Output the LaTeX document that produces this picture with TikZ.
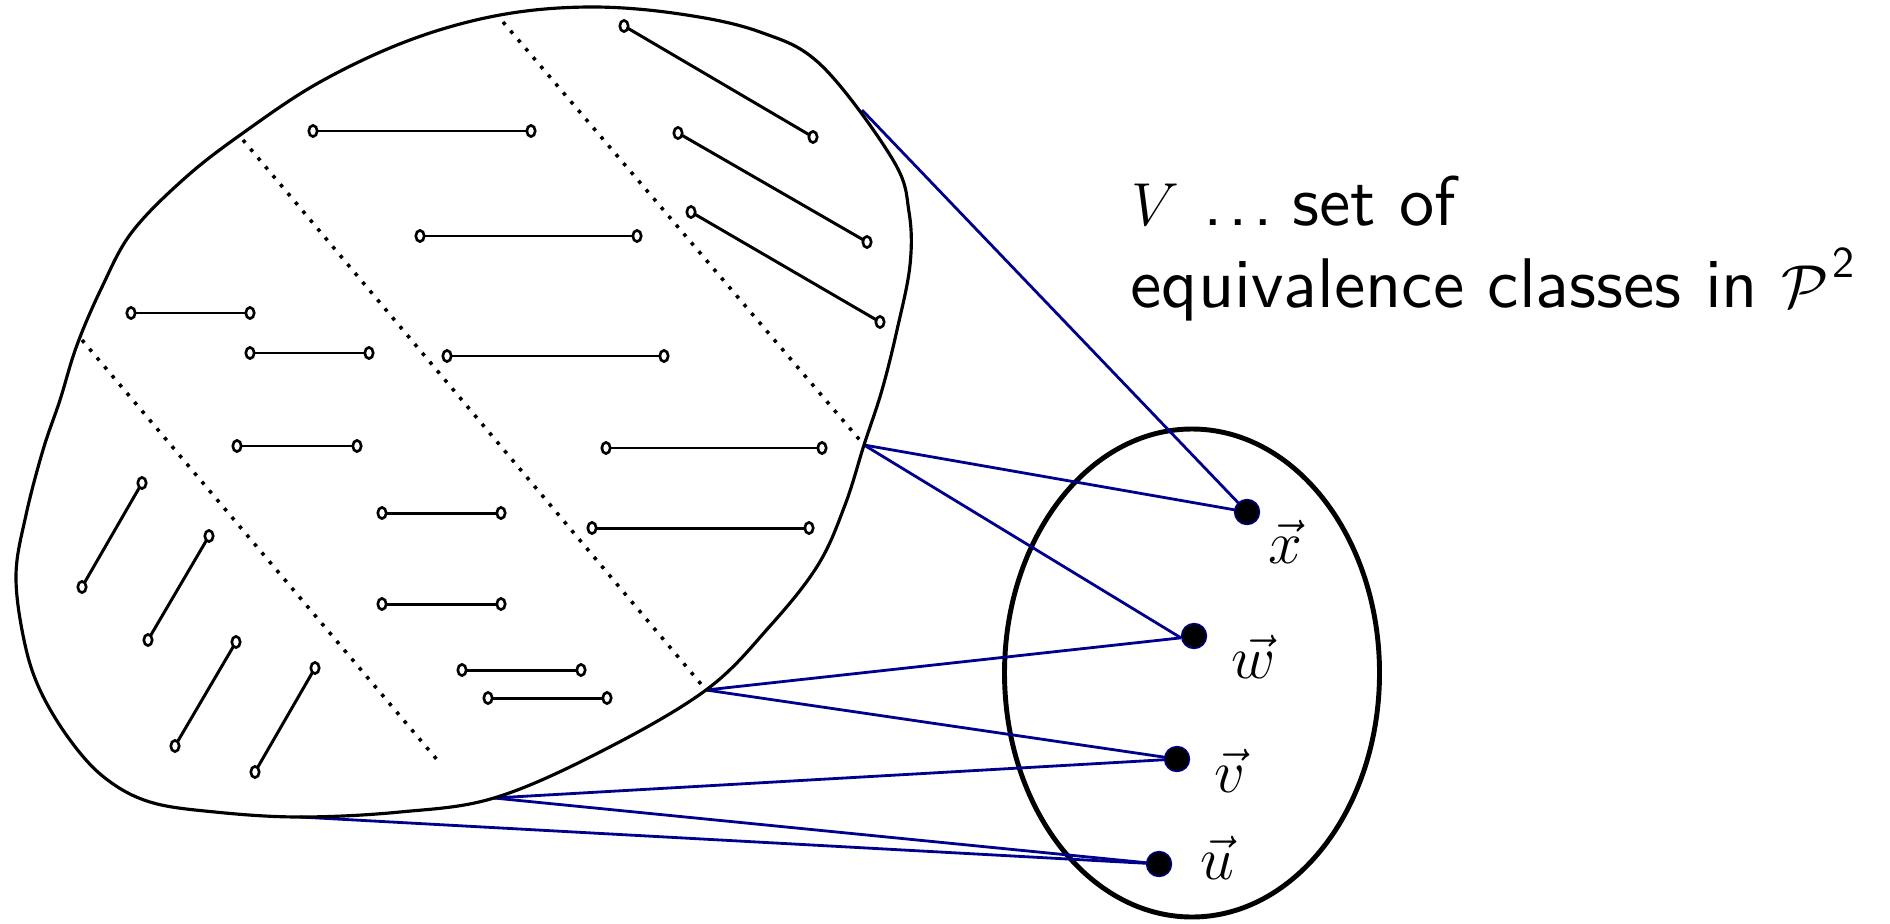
\documentclass[tikz,border=0pt]{standalone}
\usepackage{amsmath}
\usepackage{fontspec}
\newfontfamily\capsans{lmsans10-regular.otf}
\usetikzlibrary{backgrounds,shapes.geometric}

\definecolor{linkblue}{RGB}{0,0,140}

\tikzset{
  outline/.style={line width=0.9pt, line join=round},
  sepline/.style={line width=1pt, dash pattern=on 1pt off 2.3pt},
  pairline/.style={line width=0.85pt},
  endcirc/.style={line width=0.75pt, draw=black, fill=white},
  classdot/.style={circle, fill=black, draw=linkblue, line width=0.4pt,
                   inner sep=0pt, minimum size=2.5mm},
  link/.style={draw=linkblue, line width=0.8pt},
  setV/.style={draw, ellipse, line width=1.4pt, inner sep=0pt,
               minimum width=37.5mm, minimum height=48.8mm},
  mathlbl/.style={inner sep=0pt, font=\fontsize{17.28}{20}\selectfont},
  textline/.style={anchor=base west, inner sep=0pt,
                   font=\fontsize{20}{24}\selectfont\capsans}
}

% a pair of equivalent points joined by a segment
\newcommand\pairseg[2]{%
  \draw[pairline] #1 -- #2;
  \path[endcirc] #1 ellipse [x radius=4.2, y radius=5.6]
                 #2 ellipse [x radius=4.2, y radius=5.6];}

\begin{document}
\begin{tikzpicture}[x=0.1mm, y=-0.1mm]
\useasboundingbox (0,0) rectangle (1890,923);

% points on the boundary of the plane region where the links start
\coordinate (pA) at (862,110);
\coordinate (pB) at (864,445);
\coordinate (pC) at (706,690);
\coordinate (pD) at (494,798);
\coordinate (pE) at (300,817);

% the region of point pairs
\draw[outline] plot[smooth cycle, tension=0.6] coordinates {
  (16,575) (26,515) (43,450) (60,400) (77,345) (102,287) (132,232)
  (185,178) (243,133) (320,82) (410,40) (500,15) (590,7) (680,14)
  (760,32) (822,66) (893,160) (909,212) (910,265) (897,330)
  (882,390) (pB) (845,505) (818,565) (770,626) (pC) (600,752) (pD)
  (400,812) (pE) (215,812) (150,802) (105,778) (70,740) (40,690)
  (24,640)};

% borders between the classes
\draw[sepline] (503,22) -- (pB);
\draw[sepline] (243,140) -- (pC);
\draw[sepline] (82,340) -- (439,762);

% equivalent pairs
\pairseg{(624,26)}{(813,137)}
\pairseg{(678,133)}{(867,242)}
\pairseg{(691,212)}{(880,322)}
\pairseg{(313,131)}{(531,131)}
\pairseg{(420,236)}{(637,236)}
\pairseg{(131,313)}{(250,313)}
\pairseg{(250,353)}{(369,353)}
\pairseg{(447,356)}{(664,356)}
\pairseg{(237,446)}{(357,446)}
\pairseg{(606,448)}{(822,448)}
\pairseg{(382,513)}{(501,513)}
\pairseg{(592,528)}{(809,528)}
\pairseg{(382,604)}{(501,604)}
\pairseg{(462,670)}{(581,670)}
\pairseg{(488,698)}{(607,698)}
\pairseg{(82,587)}{(142,483)}
\pairseg{(148,640)}{(209,536)}
\pairseg{(175,746)}{(236,642)}
\pairseg{(255,772)}{(315,668)}

% the set V of classes
\node[classdot] (x) at (1247,512) {};
\node[classdot] (w) at (1194,636) {};
\node[classdot] (v) at (1177,759) {};
\node[classdot] (u) at (1159,864) {};

\node[mathlbl] (lx) at (1285,542) {$\vec{x}$};
\node[mathlbl] (lw) at (1254,657) {$\vec{w}$};
\node[mathlbl] (lv) at (1230,771) {$\vec{v}$};
\node[mathlbl] (lu) at (1217,858) {$\vec{u}$};

\begin{scope}[on background layer]
  \node[setV] (V) at (1192,673) {};
  \draw[link] (pA) -- (x.center);
  \draw[link] (pB) -- (x.center);
  \draw[link] (pB) -- (w.188);
  \draw[link] (pC) -- (w.188);
  \draw[link] (pC) -- (v.center);
  \draw[link] (pD) -- (v.center);
  \draw[link] (pD) -- (u.center);
  \draw[link] (pE) -- (u.center);
\end{scope}

% caption of V
\node[textline] (t1) at (1131,225)
  {{\fontsize{17.28}{20}\selectfont$V$} .\kern1.6pt.\kern1.6pt.\kern5.5pt set of};
\node[textline] (t2) at (1130,307)
  {equivalence classes in {\fontsize{17.28}{20}\selectfont$\mathcal{P}$}\kern1pt\raisebox{8.5pt}{\fontsize{12.5}{13}\selectfont 2}};
\end{tikzpicture}
\end{document}
